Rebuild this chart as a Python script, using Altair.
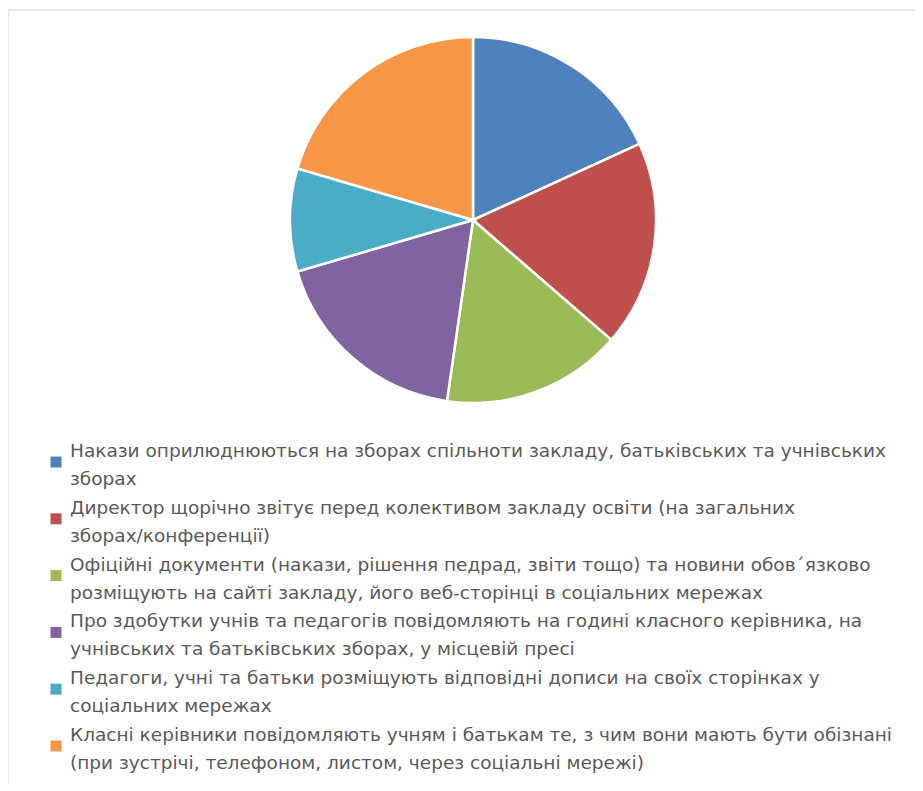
import altair as alt
import pandas as pd

categories = [
    "Накази оприлюднюються на зборах спільноти закладу, батьківських та учнівських\nзборах",
    "Директор щорічно звітує перед колективом закладу освіти (на загальних\nзборах/конференції)",
    "Офіційні документи (накази, рішення педрад, звіти тощо) та новини обов΄язково\nрозміщують на сайті закладу, його веб-сторінці в соціальних мережах",
    "Про здобутки учнів та педагогів повідомляють на годині класного керівника, на\nучнівських та батьківських зборах, у місцевій пресі",
    "Педагоги, учні та батьки розміщують відповідні дописи на своїх сторінках у\nсоціальних мережах",
    "Класні керівники повідомляють учням і батькам те, з чим вони мають бути обізнані\n(при зустрічі, телефоном, листом, через соціальні мережі)",
]
values = [8, 8, 7, 8, 4, 9]
colors = ["#4F81BD", "#C0504D", "#9BBB59", "#8064A2", "#4BACC6", "#F79646"]

df = pd.DataFrame({"cat": categories, "val": values, "idx": list(range(len(values)))})

W, H = 907, 775
color_scale = alt.Scale(domain=categories, range=colors)

pie = alt.Chart(df).mark_arc(stroke="white", strokeWidth=2.5).encode(
    theta=alt.Theta("val:Q", stack=True),
    order=alt.Order("idx:Q"),
    color=alt.Color("cat:N", scale=color_scale, sort=categories, legend=None),
    x=alt.value(465),
    y=alt.value(212),
    radius=alt.value(183),
)

ly = alt.Y("idx:Q", scale=alt.Scale(domain=[0, 5], range=[454, 738]), axis=None)

leg_sq = alt.Chart(df).mark_square(size=121, opacity=1, strokeWidth=0).encode(
    x=alt.value(48),
    y=ly,
    color=alt.Color("cat:N", scale=color_scale, legend=None),
)

leg_txt = alt.Chart(df).mark_text(
    align="left", baseline="middle", lineBreak="\n", lineHeight=28, dy=-11,
    font="DejaVu Sans", fontSize=18.5, color="#595959",
).encode(
    x=alt.value(62),
    y=ly,
    text="cat:N",
)

frame_df = pd.DataFrame({"k": [0]})
top_line = alt.Chart(frame_df).mark_rule(color="#e8e8e8", strokeWidth=2).encode(
    x=alt.value(0), x2=alt.value(W), y=alt.value(2)
)
left_line = alt.Chart(frame_df).mark_rule(color="#e8e8e8", strokeWidth=2).encode(
    x=alt.value(0), y=alt.value(2), y2=alt.value(H)
)

chart = alt.layer(top_line, left_line, pie, leg_sq, leg_txt).properties(
    width=W, height=H, autosize=alt.AutoSizeParams(type="none"), padding=0
).configure_view(stroke=None)

chart.save("out.html", embed_options={"renderer": "svg", "actions": False})
